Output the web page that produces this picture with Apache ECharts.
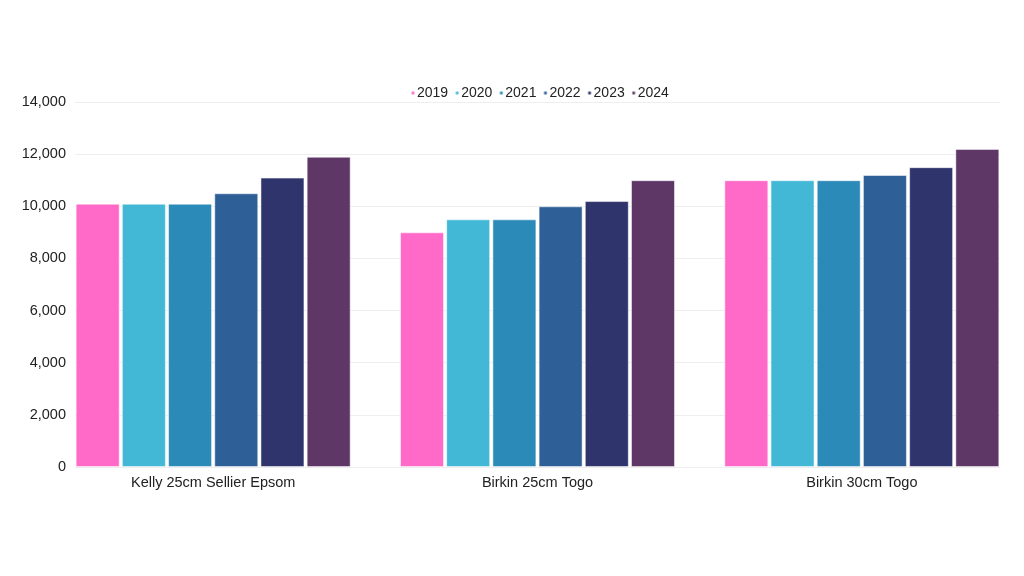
<!DOCTYPE html>
<html><head><meta charset="utf-8">
<script src="https://cdn.jsdelivr.net/npm/echarts@6/dist/echarts.min.js"></script>
<style>html,body{margin:0;padding:0;background:#fff}#c{width:1024px;height:576px}</style>
</head><body><div id="c"></div>
<script>
const categories = ['Kelly 25cm Sellier Epsom', 'Birkin 25cm Togo', 'Birkin 30cm Togo'];
const years = ['2019', '2020', '2021', '2022', '2023', '2024'];
const v2019 = [10100, 9000, 11000];
const v2020 = [10100, 9500, 11000];
const v2021 = [10100, 9500, 11000];
const v2022 = [10500, 10000, 11200];
const v2023 = [11100, 10200, 11500];
const v2024 = [11900, 11000, 12200];
const colors = ['#FF69C8', '#42B8D6', '#2C8AB8', '#2E5F97', '#30346C', '#5E3767'];
const values = [v2019, v2020, v2021, v2022, v2023, v2024];
const font = '"Liberation Sans", Arial, sans-serif';

const chart = echarts.init(document.getElementById('c'));
chart.setOption({
  animation: false,
  color: colors,
  textStyle: { fontFamily: font },
  legend: {
    top: 81, left: 405,
    icon: 'circle', itemWidth: 4, itemHeight: 4, itemGap: 6,
    textStyle: { fontSize: 14, color: '#222', fontFamily: font, padding: [0, 0, 0, -3] },
    data: years
  },
  grid: [
    { left: 75, right: 24, top: 102, bottom: 109 },
    { left: 51, right: 0, top: 102, bottom: 109 }
  ],
  xAxis: [
    { gridIndex: 0, type: 'category', data: categories, show: false },
    { gridIndex: 1, type: 'category', data: categories,
      axisLine: { show: false }, axisTick: { show: false },
      axisLabel: { fontSize: 14.5, color: '#222', margin: 8, fontFamily: font } }
  ],
  yAxis: [
    { gridIndex: 0, type: 'value', min: 0, max: 14000, interval: 2000,
      axisLine: { show: false }, axisTick: { show: false },
      axisLabel: { fontSize: 14.5, color: '#222', margin: 9, fontFamily: font,
        formatter: v => v.toLocaleString('en-US') },
      splitLine: { lineStyle: { color: '#eeeeee', width: 1 } } },
    { gridIndex: 1, type: 'value', min: 0, max: 14000, interval: 2000, show: false,
      splitLine: { show: false } }
  ],
  series: years.map((y, i) => ({
    name: y, type: 'bar', xAxisIndex: 1, yAxisIndex: 1,
    data: values[i], barWidth: 44, barGap: '5%',
    itemStyle: { color: colors[i], borderColor: 'rgba(255,255,255,0.5)', borderWidth: 1 }
  }))
});
</script></body></html>
